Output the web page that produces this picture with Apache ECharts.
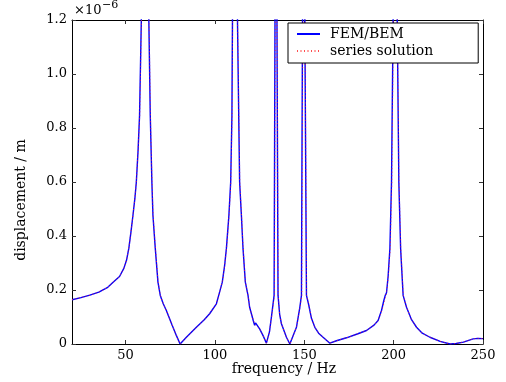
<!DOCTYPE html>
<html>
<head>
<meta charset="utf-8">
<script src="https://cdn.jsdelivr.net/npm/echarts@6/dist/echarts.min.js"></script>
<style>html,body{margin:0;padding:0;background:#fff;}#c{width:506px;height:382px;}</style>
</head>
<body>
<div id="c"></div>
<script>
// frequency in Hz, displacement in units of 1e-6 m
const femFreq = [20,25,30,35,40,43,46.6,49,50.5,51.8,53,54.1,55.2,56,57,57.8,58.8,59.8,60.9,62,63,63.8,64.7,65.3,66.6,68.1,69.4,71,72.8,76,78.5,80.5,84,89.6,94,97,100.8,102.1,104.1,105.4,106.4,107.8,108.8,109.5,109.8,110.5,111.2,111.9,112.6,113.3,113.8,114.8,115.7,117,118.5,119.4,120.4,121.5,122.2,122.7,123.4,125,127,128.8,130.5,131.6,133.1,133.6,134.15,134.7,135.3,136.2,137.2,140,141.9,144,145.6,147.5,148.4,149,149.65,150.3,151.2,152.3,154,155.9,158,160.5,164.3,168,173.6,180,184.8,189,191.3,193.2,194.5,195.3,196,196.9,197.9,198.8,199.7,200.9,202,202.9,203.9,205.3,207.2,210,212.8,216,220.3,226,231.5,235,239,244.5,247,250];
const femDisp = [0.164,0.172,0.181,0.192,0.21,0.229,0.25,0.28,0.31,0.354,0.415,0.476,0.54,0.6,0.72,0.846,1.2,2.5,10,2.5,1.2,0.846,0.6,0.476,0.354,0.229,0.18,0.15,0.124,0.07,0.03,0,0.025,0.062,0.09,0.112,0.149,0.18,0.229,0.29,0.354,0.476,0.6,0.846,1.2,3,10,3,1.2,0.846,0.6,0.476,0.354,0.229,0.18,0.136,0.112,0.085,0.069,0.078,0.071,0.056,0.03,0.003,0.045,0.1,0.18,1.2,10,1.2,0.18,0.11,0.075,0.025,0,0.035,0.062,0.136,0.18,1.2,10,1.2,0.18,0.15,0.095,0.062,0.04,0.025,0.003,0.012,0.023,0.038,0.05,0.07,0.087,0.124,0.161,0.18,0.19,0.25,0.354,0.6,1.2,10,1.2,0.6,0.354,0.18,0.136,0.09,0.062,0.04,0.025,0.01,0,0.002,0.007,0.019,0.021,0.02];

const serFreq = [20,25,30,35,40,43,46.6,49,50.5,51.8,53,54.1,55.2,56,57,57.9,58.9,59.9,60.9,62,63.1,63.9,64.8,65.4,66.7,68.2,69.5,71,72.8,76,78.5,80.5,84,89.6,94,97,100.8,102.1,104.1,105.4,106.5,107.9,108.9,109.6,109.9,110.5,111.2,111.9,112.7,113.4,113.9,114.9,115.8,117,118.5,119.4,120.4,121.5,122.5,125,127,128.8,130.5,131.7,133.3,133.8,134.2,134.8,135.4,136.2,137.2,140,141.9,144,145.6,147.6,148.6,149.2,149.7,150.4,151.3,152.4,154,155.9,158,160.5,164.3,168,173.6,180,184.8,189,191.3,193.4,194.7,195.5,196.2,197.1,198.1,199,199.9,201,202.1,203,204,205.4,207.2,210,212.8,216,220.3,226,231.5,235,239,244.5,247,250];
const serDisp = [0.164,0.172,0.181,0.192,0.21,0.229,0.25,0.28,0.31,0.354,0.415,0.476,0.54,0.6,0.72,0.846,1.2,2.5,10,2.5,1.2,0.846,0.6,0.476,0.354,0.229,0.18,0.15,0.124,0.07,0.03,0,0.025,0.062,0.09,0.112,0.149,0.18,0.229,0.29,0.354,0.476,0.6,0.846,1.2,3,10,3,1.2,0.846,0.6,0.476,0.354,0.229,0.18,0.136,0.112,0.088,0.072,0.056,0.03,0.003,0.045,0.1,0.18,1.2,10,1.2,0.18,0.11,0.075,0.025,0,0.035,0.062,0.136,0.18,1.2,10,1.2,0.18,0.15,0.095,0.062,0.04,0.025,0.003,0.012,0.023,0.038,0.05,0.07,0.087,0.124,0.155,0.175,0.2,0.26,0.354,0.6,1.2,10,1.2,0.6,0.354,0.18,0.136,0.09,0.062,0.04,0.025,0.01,0,0.002,0.007,0.019,0.021,0.02];

const xTicks = [50,100,150,200,250];
const yTicks = [0,0.2,0.4,0.6,0.8,1.0,1.2];
const seriesNames = ['FEM/BEM','series solution'];
const xName = 'frequency / Hz';
const yName = 'displacement / m';

const FONT = 'DejaVu Serif';
const chart = echarts.init(document.getElementById('c'), null, {renderer:'canvas'});

function pairs(f, d){ return f.map((v,i)=>[v,d[i]]); }

const axisCommon = {
  axisLine:{show:true,onZero:false,lineStyle:{color:'#000',width:1}},
  axisTick:{show:true,inside:true,length:4,lineStyle:{color:'#333',width:1}},
  splitLine:{show:false}
};

chart.setOption({
  animation:false,
  backgroundColor:'#fff',
  grid:{left:72,right:23,top:20,bottom:38,containLabel:false},
  xAxis:[
    Object.assign({type:'value',min:20,max:250,position:'bottom',
      axisLabel:{customValues:xTicks,margin:5,color:'#000',fontFamily:FONT,fontSize:13},
    }, axisCommon, {axisTick:Object.assign({},axisCommon.axisTick,{customValues:xTicks})}),
    Object.assign({type:'value',min:20,max:250,position:'top',
      axisLabel:{show:false}
    }, axisCommon, {axisTick:Object.assign({},axisCommon.axisTick,{customValues:xTicks})})
  ],
  yAxis:[
    Object.assign({type:'value',min:0,max:1.2,interval:0.2,position:'left',
      axisLabel:{margin:5,color:'#000',fontFamily:FONT,fontSize:13,
        formatter:v=>Math.abs(v)<1e-9?'0':v.toFixed(1)}
    }, axisCommon),
    Object.assign({type:'value',min:0,max:1.2,interval:0.2,position:'right',
      axisLabel:{show:false}
    }, axisCommon)
  ],
  legend:{
    orient:'vertical',left:288,top:23,
    data:seriesNames,
    itemWidth:23,itemHeight:14,itemGap:3,
    padding:[4,45,5,8],
    backgroundColor:'#fff',borderColor:'#000',borderWidth:1,
    itemStyle:{opacity:0},
    textStyle:{fontFamily:FONT,fontSize:14,color:'#000',padding:[0,0,0,5]}
  },
  graphic:[
    {type:'text',left:74,top:4,style:{text:'×10',font:'13px "DejaVu Serif"',fill:'#000'}},
    {type:'text',left:102,top:0,style:{text:'−6',font:'11px "DejaVu Serif"',fill:'#000'}},
    {type:'text',x:284,y:369,style:{text:xName,font:'14px "DejaVu Serif"',fill:'#000',align:'center',verticalAlign:'middle'}},
    {type:'text',x:21,y:200,rotation:Math.PI/2,style:{text:yName,font:'14px "DejaVu Serif"',fill:'#000',align:'center',verticalAlign:'middle'}}
  ],
  series:[
    {name:seriesNames[0],type:'line',data:pairs(femFreq,femDisp),symbol:'none',clip:true,
     lineStyle:{color:'#0000ff',width:1.4},itemStyle:{color:'#0000ff'},z:2},
    {name:seriesNames[1],type:'line',data:pairs(serFreq,serDisp),symbol:'none',clip:true,
     lineStyle:{color:'#ff2020',width:1,type:[1,2.5],opacity:0.8},itemStyle:{color:'#ff2020'},z:3}
  ]
});
</script>
</body>
</html>
